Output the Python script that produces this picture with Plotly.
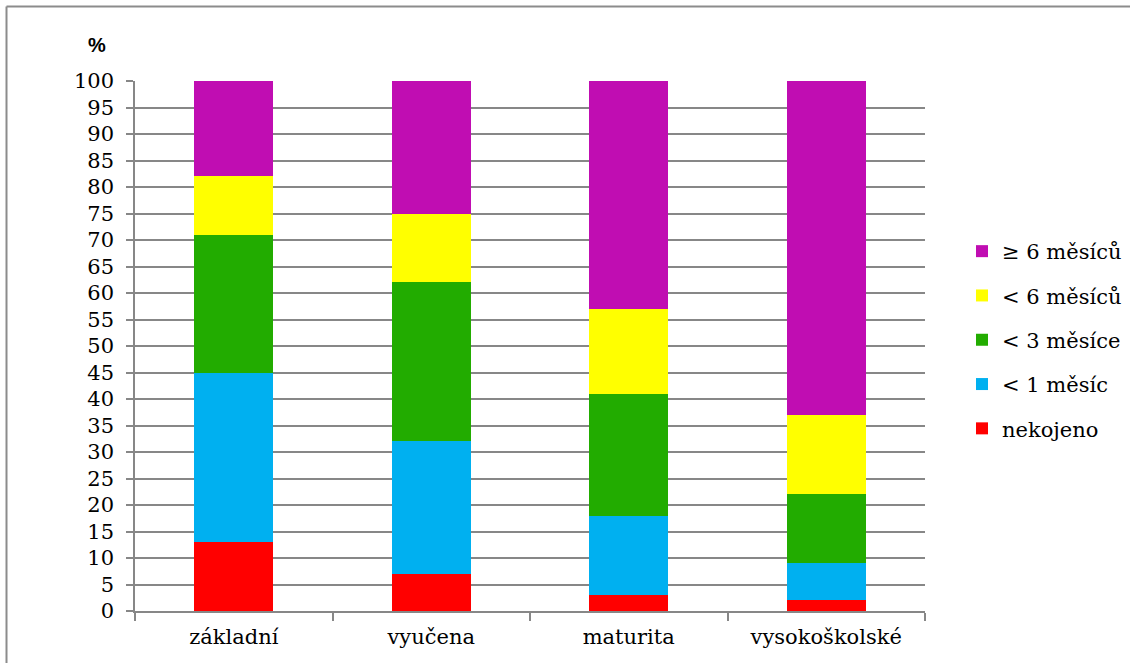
import plotly.graph_objects as go

categories = ["základní", "vyučena", "maturita", "vysokoškolské"]
series_names = ["nekojeno", "< 1 měsíc", "< 3 měsíce", "< 6 měsíců", "≥ 6 měsíců"]
nekojeno = [13, 7, 3, 2]
lt_1 = [32, 25, 15, 7]
lt_3 = [26, 30, 23, 13]
lt_6 = [11, 13, 16, 15]
ge_6 = [18, 25, 43, 63]
colors = ["#FF0000", "#00B0F0", "#22AC00", "#FFFF00", "#C00DB2"]
y_ticks = list(range(0, 101, 5))

W, H = 1130, 663
L, R, T, B = 135, 925, 81, 611
pw, ph = R - L, B - T

def px(x):
    return (x - L) / pw

def py(y):
    return (B - y) / ph

serif = "DejaVu Serif"
grid = "#878787"

fig = go.Figure()
all_vals = [nekojeno, lt_1, lt_3, lt_6, ge_6]
for i, (name, vals, col) in enumerate(zip(series_names, all_vals, colors)):
    fig.add_trace(go.Bar(x=categories, y=vals, name=name, marker=dict(color=col, line=dict(width=0)),
                         legendgroup=name, legendrank=len(series_names) - i))

fig.update_layout(
    width=W, height=H,
    margin=dict(l=L, r=W - R, t=T, b=H - B, autoexpand=False),
    barmode="stack", bargap=0.6,
    plot_bgcolor="white", paper_bgcolor="white",
    font=dict(family=serif, size=21, color="black"),
    xaxis=dict(showline=True, linecolor=grid, linewidth=1.5, ticks="outside", tickson="boundaries",
               ticklen=8, tickcolor=grid, tickwidth=1.5, showgrid=False, ticklabelstandoff=6,
               tickfont=dict(family=serif, size=21)),
    yaxis=dict(range=[0, 100], tickvals=y_ticks, showline=True, linecolor=grid, linewidth=1.5,
               ticks="outside", ticklen=7, tickcolor=grid, tickwidth=1.5, ticklabelstandoff=8,
               showgrid=True, gridcolor=grid, gridwidth=1.5, zeroline=False,
               tickfont=dict(family=serif, size=21)),
    legend=dict(x=px(962), y=py(231), xanchor="left", yanchor="top",
                traceorder="grouped", tracegroupgap=14,
                font=dict(family=serif, size=21), bgcolor="rgba(0,0,0,0)"),
    showlegend=True,
)

fig.add_annotation(x=px(97), y=py(45), xref="paper", yref="paper", text="<b>%</b>", showarrow=False,
                   xanchor="center", yanchor="middle",
                   font=dict(family="Liberation Sans", size=20, color="black"))

fig.add_shape(type="line", xref="paper", yref="paper", x0=px(6.5), x1=px(6.5), y0=py(6.5), y1=py(700),
              line=dict(color="#8c8c8c", width=2))
fig.add_shape(type="line", xref="paper", yref="paper", x0=px(6.5), x1=px(1200), y0=py(6.5), y1=py(6.5),
              line=dict(color="#8c8c8c", width=2))

fig.write_html("out.html")
